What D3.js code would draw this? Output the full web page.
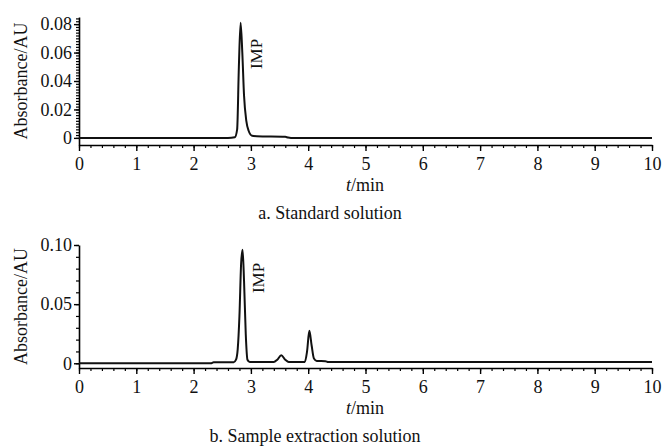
<!DOCTYPE html>
<html>
<head>
<meta charset="utf-8">
<script src="https://cdn.jsdelivr.net/npm/d3@7"></script>
<style>
  body { margin: 0; background: #fff; }
  svg, svg text { font-family: "Liberation Serif", "DejaVu Serif", serif; }
  .trace { fill: none; stroke: #111; stroke-width: 2; stroke-linejoin: round; }
</style>
</head>
<body>
<svg id="chart" width="664" height="446"></svg>
<script>
// chromatogram a (standard solution): retention time (min) / absorbance (AU)
const timeA = [0, 2.6, 2.72, 2.76, 2.79, 2.82, 2.85, 2.88, 2.92, 2.96, 3.02, 3.1, 3.6, 3.65, 3.7, 10];
const absA  = [0, 0, 0.0005, 0.006, 0.05, 0.081, 0.06, 0.03, 0.012, 0.005, 0.0015, 0.0012, 0.0008, 0.0002, 0, 0];

// chromatogram b (sample extraction solution)
const timeB = [0, 2.3, 2.35, 2.7, 2.74, 2.77, 2.8, 2.83, 2.855, 2.88, 2.91, 2.94, 2.98, 3.4, 3.46, 3.53, 3.6, 3.66,
               3.94, 3.98, 4.02, 4.06, 4.1, 4.15, 4.3, 4.35, 10];
const absB  = [0, 0, 0.0008, 0.0008, 0.003, 0.012, 0.04, 0.085, 0.096, 0.07, 0.025, 0.003, 0.001, 0.001, 0.003, 0.0068, 0.003, 0.001,
               0.001, 0.01, 0.0274, 0.015, 0.004, 0.002, 0.0018, 0.001, 0.001];

const xTicks = [0, 1, 2, 3, 4, 5, 6, 7, 8, 9, 10];
const yTicksA = [0, 0.02, 0.04, 0.06, 0.08];
const yTicksB = [0, 0.05, 0.10];
const captions = ["a. Standard solution", "b. Sample extraction solution"];

const svg = d3.select('#chart');
const serif = '"Liberation Serif", "DejaVu Serif", serif';

function panel(opt) {
  const x = d3.scaleLinear().domain([0, 10]).range([79, 652]);
  const y = d3.scaleLinear().domain(opt.yDomain).range([opt.bottom, opt.top]);
  const g = svg.append('g');

  // x axis: minor then major ticks
  g.append('g')
    .attr('transform', `translate(0,${opt.bottom})`)
    .call(d3.axisBottom(x).tickValues(d3.range(0, 10.001, 0.2)).tickSize(3).tickFormat(''))
    .call(a => a.select('.domain').remove())
    .call(a => a.selectAll('line').attr('stroke-width', 1.2));
  g.append('g')
    .attr('transform', `translate(0,${opt.bottom})`)
    .call(d3.axisBottom(x).tickValues(xTicks).tickSize(6).tickSizeOuter(0).tickPadding(6).tickFormat(d3.format('d')))
    .attr('font-family', serif)
    .call(a => a.select('.domain').attr('stroke-width', 1.6))
    .call(a => a.selectAll('line').attr('stroke-width', 1.4))
    .call(a => a.selectAll('text').attr('font-size', 18).attr('fill', '#111'));

  // y axis
  g.append('g')
    .attr('transform', 'translate(79,0)')
    .call(d3.axisLeft(y).tickValues(d3.range(0, opt.yDomain[1] + 1e-9, opt.minor)).tickSize(3).tickFormat(''))
    .call(a => a.select('.domain').remove())
    .call(a => a.selectAll('line').attr('stroke-width', 1.2));
  g.append('g')
    .attr('transform', 'translate(79,0)')
    .call(d3.axisLeft(y).tickValues(opt.yTicks).tickSize(5).tickSizeOuter(0).tickPadding(2).tickFormat(opt.fmt))
    .attr('font-family', serif)
    .call(a => a.select('.domain').attr('stroke-width', 1.6))
    .call(a => a.selectAll('line').attr('stroke-width', 1.4))
    .call(a => a.selectAll('text').attr('font-size', 18).attr('fill', '#111'));

  // trace
  const pts = opt.t.map((d, i) => [d, opt.v[i]]);
  g.append('path')
    .datum(pts)
    .attr('class', 'trace')
    .attr('d', d3.line().x(d => x(d[0])).y(d => y(d[1])).curve(d3.curveMonotoneX));

  // IMP peak label
  g.append('text')
    .attr('transform', `translate(${opt.labelX},${opt.labelY}) rotate(-90)`)
    .attr('text-anchor', 'middle')
    .attr('font-size', 17)
    .attr('fill', '#111')
    .text('IMP');

  // axis titles
  g.append('text')
    .attr('transform', `translate(27,${(opt.top + opt.bottom) / 2}) rotate(-90)`)
    .attr('text-anchor', 'middle')
    .attr('font-size', 18)
    .attr('fill', '#111')
    .text('Absorbance/AU');

  const xt = g.append('text')
    .attr('x', 365).attr('y', opt.bottom + 46)
    .attr('text-anchor', 'middle')
    .attr('font-size', 18)
    .attr('fill', '#111');
  xt.append('tspan').attr('font-style', 'italic').text('t');
  xt.append('tspan').text('/min');

  g.append('text')
    .attr('x', opt.capX).attr('y', opt.bottom + 74)
    .attr('text-anchor', 'middle')
    .attr('font-size', 18)
    .attr('fill', '#111')
    .text(opt.caption);
}

panel({
  t: timeA, v: absA, yDomain: [-0.005, 0.085], top: 17, bottom: 145,
  yTicks: yTicksA, minor: 0.002, fmt: d => d === 0 ? '0' : d3.format('.2f')(d),
  labelX: 262, labelY: 54, caption: captions[0], capX: 330
});
panel({
  t: timeB, v: absB, yDomain: [-0.004, 0.1], top: 245, bottom: 368,
  yTicks: yTicksB, minor: 0.01, fmt: d => d === 0 ? '0' : d3.format('.2f')(d),
  labelX: 264, labelY: 278, caption: captions[1], capX: 315
});
</script>
</body>
</html>
